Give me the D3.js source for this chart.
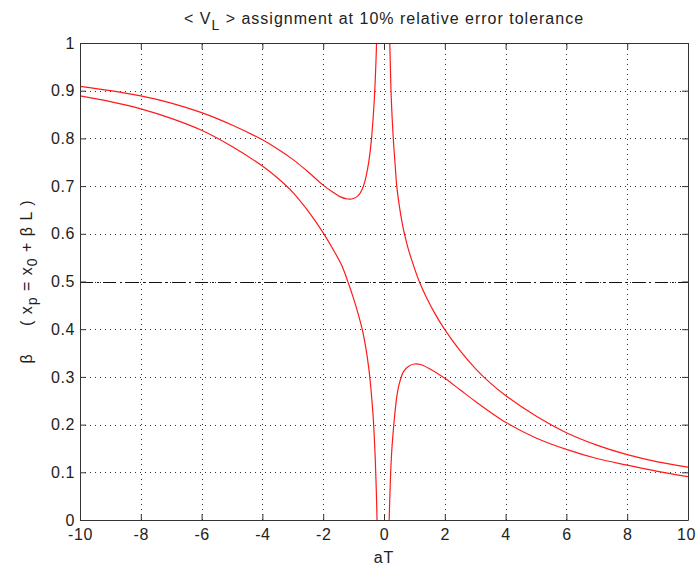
<!DOCTYPE html>
<html>
<head>
<meta charset="utf-8">
<script src="https://cdn.jsdelivr.net/npm/d3@7"></script>
<style>
  body { margin: 0; background: #fff; }
  svg text { font-family: "Liberation Sans", Arial, sans-serif; fill: #222; }
</style>
</head>
<body>
<svg id="chart"></svg>
<script>
// values (aT, beta)
const outerLeft = [
  [-10, 0.909], [-9, 0.900], [-8, 0.889], [-7, 0.874], [-6, 0.854], [-5, 0.828],
  [-4, 0.797], [-3.5, 0.778], [-3, 0.756], [-2.5, 0.730], [-2, 0.702], [-1.7, 0.688],
  [-1.45, 0.678], [-1.2, 0.673], [-1.0, 0.674], [-0.85, 0.680], [-0.72, 0.693],
  [-0.62, 0.712], [-0.54, 0.736], [-0.47, 0.765], [-0.41, 0.80], [-0.36, 0.84],
  [-0.32, 0.88], [-0.29, 0.92], [-0.265, 0.96], [-0.245, 1.0], [-0.225, 1.05]
];
const innerLeft = [
  [-10, 0.889], [-9, 0.877], [-8, 0.862], [-7, 0.842], [-6, 0.817], [-5, 0.783],
  [-4, 0.742], [-3.5, 0.717], [-3, 0.687], [-2.5, 0.648], [-2, 0.602], [-1.7, 0.570],
  [-1.4, 0.535], [-1.19, 0.500], [-1.0, 0.464], [-0.85, 0.432], [-0.71, 0.398],
  [-0.6, 0.362], [-0.5, 0.318], [-0.44, 0.282], [-0.39, 0.245], [-0.35, 0.210],
  [-0.32, 0.175], [-0.295, 0.140], [-0.275, 0.105], [-0.255, 0.065], [-0.24, 0.030],
  [-0.225, -0.01]
];
const outerRight = [
  [0.175, 1.03], [0.19, 1.0], [0.21, 0.95], [0.23, 0.90], [0.27, 0.84], [0.31, 0.795],
  [0.36, 0.75], [0.42, 0.70], [0.5, 0.66], [0.6, 0.622], [0.67, 0.601], [0.8, 0.568],
  [1.0, 0.528], [1.16, 0.500], [1.4, 0.466], [1.7, 0.430], [2, 0.399], [2.5, 0.355],
  [3, 0.318], [3.5, 0.287], [4, 0.261], [5, 0.218], [6, 0.183], [7, 0.157],
  [8, 0.137], [9, 0.122], [10, 0.111]
];
const innerRight = [
  [0.16, -0.03], [0.17, 0.0], [0.19, 0.045], [0.22, 0.10], [0.26, 0.15], [0.31, 0.19],
  [0.36, 0.225], [0.42, 0.258], [0.48, 0.280], [0.55, 0.296], [0.64, 0.311], [0.8, 0.322],
  [1.0, 0.327], [1.2, 0.326], [1.5, 0.317], [2, 0.297], [2.5, 0.273], [3, 0.249],
  [3.5, 0.226], [4, 0.205], [5, 0.172], [6, 0.148], [7, 0.129], [8, 0.115],
  [9, 0.102], [10, 0.091]
];
const refLevel = 0.5;
const xTicks = [-10, -8, -6, -4, -2, 0, 2, 4, 6, 8, 10];
const yTicks = [0, 0.1, 0.2, 0.3, 0.4, 0.5, 0.6, 0.7, 0.8, 0.9, 1];

const width = 696, height = 573;
const margin = { top: 43, right: 8, bottom: 53, left: 80 };

const svg = d3.select("#chart")
  .attr("width", width)
  .attr("height", height)
  .style("background-color", "#fff");

const x = d3.scaleLinear().domain([-10, 10]).range([margin.left, width - margin.right]);
const y = d3.scaleLinear().domain([0, 1]).range([height - margin.bottom, margin.top]);

// clip region for the curves
svg.append("clipPath").attr("id", "plotclip")
  .append("rect")
  .attr("x", x(-10)).attr("y", y(1))
  .attr("width", x(10) - x(-10)).attr("height", y(0) - y(1));

// dotted grid
const grid = svg.append("g").attr("stroke", "#333").attr("stroke-width", 1)
  .attr("stroke-dasharray", "1,4").attr("shape-rendering", "crispEdges");
grid.selectAll(".gx").data(xTicks.slice(1, -1)).enter().append("line")
  .attr("x1", d => Math.round(x(d)) + 0.5).attr("x2", d => Math.round(x(d)) + 0.5)
  .attr("y1", y(0)).attr("y2", y(1));
grid.selectAll(".gy").data(yTicks.slice(1, -1)).enter().append("line")
  .attr("x1", x(-10)).attr("x2", x(10))
  .attr("y1", d => Math.round(y(d)) + 0.5).attr("y2", d => Math.round(y(d)) + 0.5);

// dash-dot line at beta = 0.5
svg.append("line")
  .attr("x1", x(-10)).attr("x2", x(10))
  .attr("y1", Math.round(y(refLevel)) + 0.5).attr("y2", Math.round(y(refLevel)) + 0.5)
  .attr("stroke", "#111").attr("stroke-width", 1.2)
  .attr("stroke-dasharray", "13,4,2,4");

// curves
const line = d3.line().x(d => x(d[0])).y(d => y(d[1])).curve(d3.curveCatmullRom.alpha(0.5));
svg.append("g").attr("clip-path", "url(#plotclip)")
  .selectAll("path").data([outerLeft, innerLeft, outerRight, innerRight]).enter()
  .append("path")
  .attr("d", line)
  .attr("fill", "none")
  .attr("stroke", "#ff1a1a")
  .attr("stroke-width", 1.2);

// axes, ticks inside on all four sides (matlab style)
const tickLen = 6;
const axisStyle = g => {
  g.select(".domain").attr("stroke", "#333");
  g.selectAll(".tick line").attr("stroke", "#333");
  g.selectAll("text").style("font-size", "16px").style("letter-spacing", "0.6px").attr("fill", "#222");
};
svg.append("g").attr("transform", `translate(0,${y(0)})`)
  .call(d3.axisBottom(x).tickValues(xTicks).tickSizeInner(-tickLen).tickSizeOuter(0).tickPadding(9)
    .tickFormat(d => String(d)))
  .call(axisStyle)
  .call(g => g.selectAll(".tick text").filter(d => d === 10).attr("dx", -2));
svg.append("g").attr("transform", `translate(0,${y(1)})`)
  .call(d3.axisTop(x).tickValues(xTicks).tickSizeInner(-tickLen).tickSizeOuter(0).tickFormat(""))
  .call(axisStyle);
svg.append("g").attr("transform", `translate(${x(-10)},0)`)
  .call(d3.axisLeft(y).tickValues(yTicks).tickSizeInner(-tickLen).tickSizeOuter(0).tickPadding(5)
    .tickFormat(d => d === 0 || d === 1 ? String(d) : d3.format(".1f")(d)))
  .call(axisStyle);
svg.append("g").attr("transform", `translate(${x(10)},0)`)
  .call(d3.axisRight(y).tickValues(yTicks).tickSizeInner(-tickLen).tickSizeOuter(0).tickFormat(""))
  .call(axisStyle);

// title
const title = svg.append("text")
  .attr("x", (x(-10) + x(10)) / 2)
  .attr("y", 24)
  .attr("text-anchor", "middle")
  .style("font-size", "16px")
  .style("letter-spacing", "1px");
title.append("tspan").text("< V");
title.append("tspan").attr("dy", 6).style("font-size", "14px").text("L");
title.append("tspan").attr("dy", -6).text(" > assignment at 10% relative error tolerance");

// x label
svg.append("text")
  .attr("x", (x(-10) + x(10)) / 2)
  .attr("y", 563)
  .attr("text-anchor", "middle")
  .style("font-size", "16px")
  .style("letter-spacing", "1px")
  .text("aT");

// y label
const ylab = svg.append("text")
  .attr("transform", `translate(32,${(y(0) + y(1)) / 2}) rotate(-90)`)
  .attr("text-anchor", "middle")
  .style("font-size", "16px")
  .style("letter-spacing", "1px")
  .attr("xml:space", "preserve");
ylab.append("tspan").text("β     ( x");
ylab.append("tspan").attr("dy", 5).style("font-size", "14px").text("p");
ylab.append("tspan").attr("dy", -5).text(" = x");
ylab.append("tspan").attr("dy", 5).style("font-size", "14px").text("0");
ylab.append("tspan").attr("dy", -5).text(" + β L )");
</script>
</body>
</html>
